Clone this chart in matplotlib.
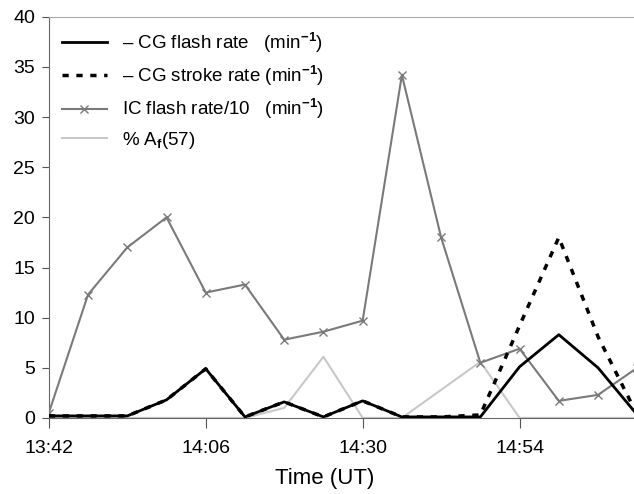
import numpy as np
import matplotlib.pyplot as plt

# minutes after 13:42, one sample every 6 min
t_min = [0, 6, 12, 18, 24, 30, 36, 42, 48, 54, 60, 66, 72, 78, 84, 90]
cg_flash = [0.2, 0.2, 0.2, 1.8, 4.9, 0.1, 1.6, 0.1, 1.7, 0.1, 0.1, 0.1, 5.1, 8.3, 5.0, 0.3]
cg_stroke = [0.2, 0.2, 0.2, 1.8, 4.9, 0.1, 1.6, 0.1, 1.7, 0.1, 0.1, 0.3, 9.2, 18.0, 8.1, 0.3]
ic_flash = [0.5, 12.3, 17.0, 20.0, 12.5, 13.3, 7.8, 8.6, 9.7, 34.2, 18.0, 5.5, 6.9, 1.7, 2.3, 5.0]
af57 = [0, 0, 0, 0, 0, 0, 1.0, 6.1, 0, 0, 2.8, 5.6, 0, 0, 0, 0]

tick_pos = [0, 24, 48, 72]
tick_lab = ["13:42", "14:06", "14:30", "14:54"]

plt.rcParams['font.family'] = ['Liberation Sans', 'DejaVu Sans']
plt.rcParams['mathtext.fontset'] = 'custom'
plt.rcParams['mathtext.rm'] = 'Liberation Sans'
plt.rcParams['mathtext.bf'] = 'Liberation Sans:bold'

fig = plt.figure(figsize=(6.34, 4.94), dpi=100)
ax = fig.add_axes([0.077, 0.154, 0.923, 0.812])

ax.plot(t_min, cg_flash, color='black', lw=2, label=r'– CG flash rate   (min$^{\mathbf{-1}}$)', zorder=4)
ax.plot(t_min, cg_stroke, color='black', lw=2.5, ls=(0, (1.8, 2.2)), label=r'– CG stroke rate (min$^{\mathbf{-1}}$)', zorder=5)
ax.plot(t_min, ic_flash, color='#7a7a7a', lw=1.5, marker='x', ms=6, mew=1,
        label=r'IC flash rate/10   (min$^{\mathbf{-1}}$)', zorder=3)
ax.plot(t_min, af57, color='#c8c8c8', lw=1.5, label=r'% A$_{\mathbf{f}}$(57)', zorder=2)

ax.set_xlim(0, 89.5)
ax.set_ylim(0, 40)
ax.set_yticks(range(0, 41, 5))
ax.set_xticks(tick_pos)
ax.set_xticklabels(tick_lab)
ax.tick_params(axis='both', labelsize=14, direction='out', colors='#555555', labelcolor='black')
ax.tick_params(axis='x', length=7, pad=9)
ax.tick_params(axis='y', length=5, pad=5)
for s in ax.spines.values():
    s.set_color('#666666')
ax.spines['top'].set_color('#aaaaaa')
ax.spines['right'].set_visible(False)

ax.set_xlabel('Time (UT)', fontsize=16)
ax.xaxis.set_label_coords(0.472, -0.125)

leg = ax.legend(loc='upper left', frameon=False, fontsize=13.5, handlelength=2.4,
                labelspacing=0.45, borderaxespad=0.3)

fig.savefig('out.png', dpi=100)
